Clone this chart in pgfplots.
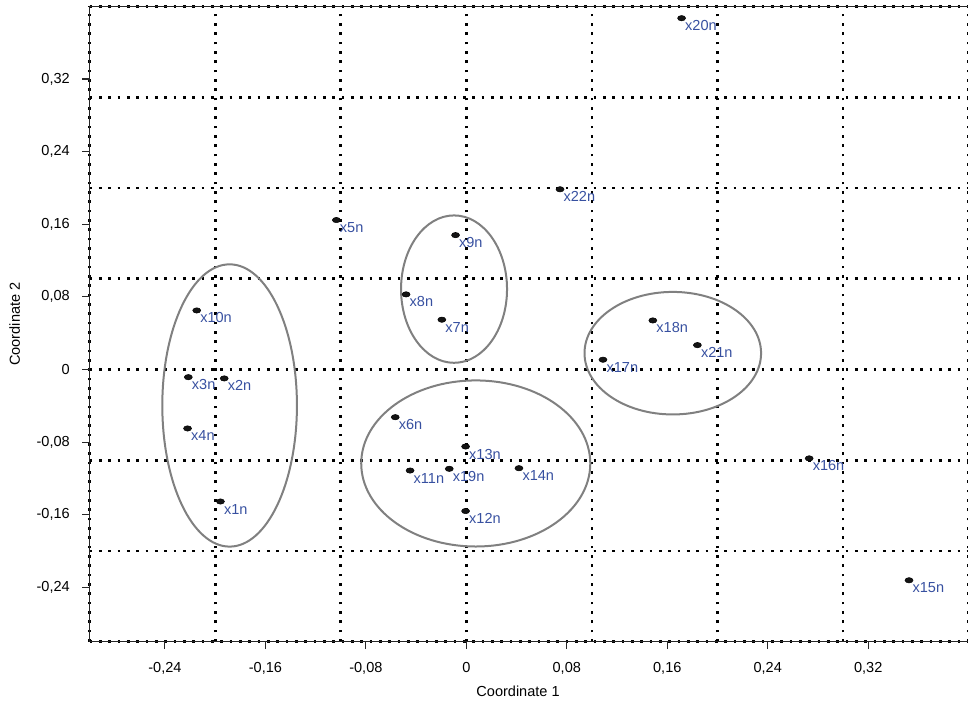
\documentclass[border=0pt]{standalone}
\usepackage{pgfplots}
\pgfplotsset{compat=1.18}
\usepackage{pgfplotstable}
\usepackage{fontspec}
\setmainfont{Liberation Sans}
\definecolor{lblue}{RGB}{55,80,160}
\definecolor{egray}{RGB}{128,128,128}
\newcommand{\fs}{\fontsize{10.9}{13}\selectfont}
\pgfplotstableread{
x y label
-0.1958 -0.1455 x1n
-0.1928 -0.0099 x2n
-0.2214 -0.0085 x3n
-0.2220 -0.0650 x4n
-0.1035 0.1646 x5n
-0.0566 -0.0526 x6n
-0.0195 0.0548 x7n
-0.0480 0.0827 x8n
-0.0086 0.1480 x9n
-0.2147 0.0650 x10n
-0.0448 -0.1114 x11n
-0.0006 -0.1560 x12n
-0.0006 -0.0849 x13n
0.0419 -0.1088 x14n
0.3525 -0.2323 x15n
0.2730 -0.0980 x16n
0.1088 0.0107 x17n
0.1485 0.0540 x18n
-0.0136 -0.1095 x19n
0.1714 0.3870 x20n
0.1840 0.0268 x21n
0.0746 0.1985 x22n
}\pts
\begin{document}
\begin{tikzpicture}
\begin{axis}[
  at={(67.2pt,45.2pt)}, anchor=south west,
  scale only axis, width=659.3pt, height=476.5pt,
  xmin=-0.30, xmax=0.40, ymin=-0.30, ymax=0.40,
  axis line style={line width=0.8pt, black!85},
  tick pos=left, tick align=outside, major tick length=5.5pt,
  major tick style={line width=0.8pt, black!85},
  xtick={-0.24,-0.16,-0.08,0,0.08,0.16,0.24,0.32},
  xticklabels={{-0,24},{-0,16},{-0,08},{0},{0,08},{0,16},{0,24},{0,32}},
  ytick={-0.24,-0.16,-0.08,0,0.08,0.16,0.24,0.32},
  yticklabels={{-0,24},{-0,16},{-0,08},{0},{0,08},{0,16},{0,24},{0,32}},
  minor xtick={-0.3,-0.2,-0.1,0,0.1,0.2,0.3,0.4},
  minor ytick={-0.3,-0.2,-0.1,0,0.1,0.2,0.3,0.4},
  minor tick length=0pt,
  xminorgrids=true, yminorgrids=true,
  minor grid style={black, line width=2.1pt, dash pattern=on 2.1pt off 4.9pt},
  tick label style={font=\fs, text=black},
  yticklabel style={anchor=east, inner sep=0pt, xshift=-9.2pt},
  xticklabel style={anchor=base, inner sep=0pt, yshift=-17.3pt},
  xlabel={Coordinate 1}, ylabel={Coordinate 2},
  every axis x label/.style={at={([yshift=-41.2pt]axis description cs:0.4874,0)}, anchor=base, font=\fs},
  every axis y label/.style={at={([xshift=-52.2pt]axis description cs:0,0.5)}, rotate=90, anchor=base, font=\fs},
]
\draw[egray, line width=1.5pt] (axis cs:-0.1885,-0.0397) ellipse [x radius=0.0536, y radius=0.1555];
\draw[egray, line width=1.5pt] (axis cs:-0.0098,0.0885) ellipse [x radius=0.0422, y radius=0.0812];
\draw[egray, line width=1.5pt] (axis cs:0.0075,-0.1036) ellipse [x radius=0.0912, y radius=0.0915];
\draw[egray, line width=1.5pt] (axis cs:0.1644,0.0179) ellipse [x radius=0.0703, y radius=0.0675];
\addplot[only marks, mark=*, mark size=2pt,
  mark options={draw=none, fill=black!92, xscale=1.5},
  nodes near coords, point meta=explicit symbolic,
  every node near coord/.append style={anchor=base west, inner sep=0pt, xshift=2.5pt, yshift=-9.4pt, text=lblue, font=\fs}]
  table[x=x, y=y, meta=label] {\pts};
\end{axis}
\pgfresetboundingbox
\path[use as bounding box] (0,0) rectangle (726pt,526.5pt);
\end{tikzpicture}
\end{document}
